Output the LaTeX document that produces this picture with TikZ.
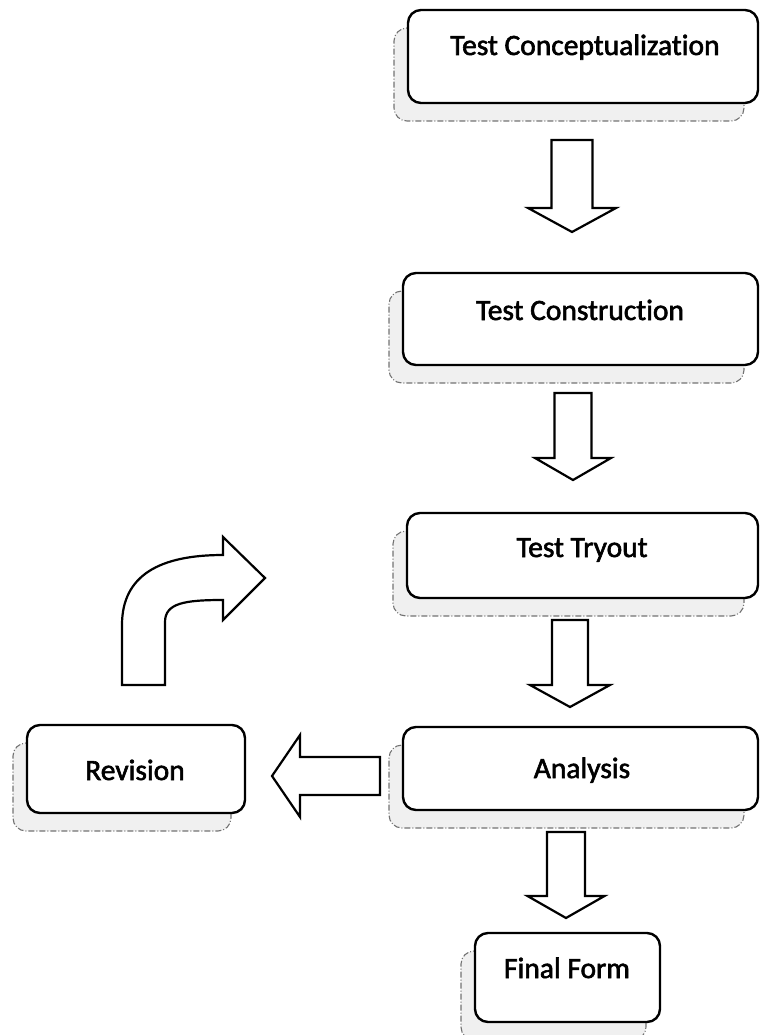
\documentclass[tikz,border=0pt]{standalone}
\usepackage{fontspec}
\setmainfont{Carlito}[FakeBold=2, Ligatures=NoCommon]
\usetikzlibrary{shadows}

\tikzset{
  stagebox/.style={
    draw=black, line width=2.4pt, fill=white, rounded corners=13pt,
    inner sep=0pt,
    copy shadow={shadow xshift=-14pt, shadow yshift=-18pt,
      draw=black!55, fill=black!6, line width=1.1pt,
      dash pattern=on 6pt off 2pt on 1pt off 2pt}
  },
  stagetext/.style={anchor=base, inner sep=0pt,
    font=\fontsize{29.5}{32}\selectfont},
  blockarrow/.style={draw=black, line width=2.2pt, fill=white,
    line join=miter}
}

% vertical block arrow: centre x, shaft top, head base, tip, shaft half width, head half width
\newcommand{\downblock}[6]{%
  \draw[blockarrow] ({#1-#5},#2) -- ({#1+#5},#2) -- ({#1+#5},#3) -- ({#1+#6},#3)
    -- (#1,#4) -- ({#1-#6},#3) -- ({#1-#5},#3) -- cycle;}

\begin{document}
\begin{tikzpicture}[x=1pt,y=-1pt]
\useasboundingbox (0,0) rectangle (760,1035);

% stage boxes
\node[stagebox, minimum width=350pt, minimum height=93pt] (concept) at (583,56.5) {};
\node[stagebox, minimum width=355pt, minimum height=92pt] (construct) at (580.5,319) {};
\node[stagebox, minimum width=351pt, minimum height=85pt] (tryout) at (582.5,555.5) {};
\node[stagebox, minimum width=355pt, minimum height=83pt] (analysis) at (580.5,768.5) {};
\node[stagebox, minimum width=218pt, minimum height=88pt] (revision) at (136,769) {};
\node[stagebox, minimum width=185pt, minimum height=89pt] (final) at (567.5,977.5) {};

% stage labels
\node[stagetext] (tconcept) at (585,55) {Test Conceptualization};
\node[stagetext] (tconstruct) at (580,320) {Test Construction};
\node[stagetext] (ttryout) at (582,557) {Test Tryout};
\node[stagetext] (tanalysis) at (582,778) {Analysis};
\node[stagetext] (trevision) at (135,780) {Revision};
\node[stagetext] (tfinal) at (567,978) {Final Form};

% downward block arrows between stages
\downblock{572}{140}{208}{232}{20.5}{44}
\downblock{573}{393}{458}{480}{18.5}{38}
\downblock{570}{620}{685}{707}{18}{40}
\downblock{566}{832}{896}{918}{19}{38.5}

% block arrow from Analysis to Revision
\draw[blockarrow] (380,757) -- (300,757) -- (300,735) -- (272,776)
  -- (300,817) -- (300,795) -- (380,795) -- cycle;

% bent block arrow rising from Revision
\draw[blockarrow] (122,685) -- (122,625)
  .. controls (122,575) and (160,555) .. (223,555)
  -- (223,537) -- (265,578) -- (223,620) -- (223,600)
  .. controls (185,600) and (165,603) .. (165,622)
  -- (165,685) -- cycle;
\end{tikzpicture}
\end{document}
